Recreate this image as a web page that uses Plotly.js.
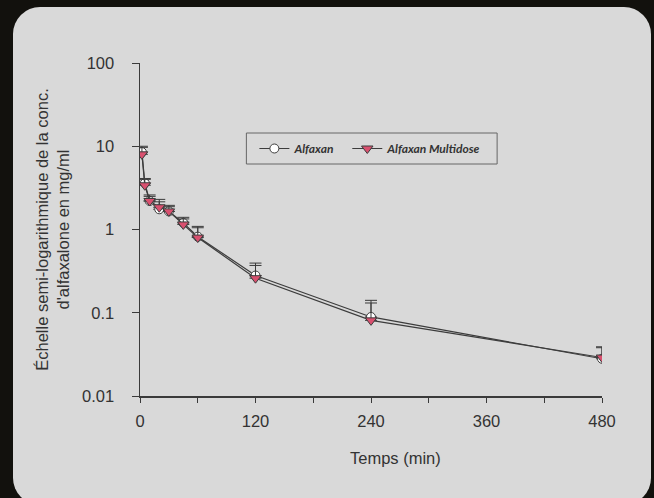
<!DOCTYPE html>
<html>
<head>
<meta charset="utf-8">
<script src="https://cdn.plot.ly/plotly-3.0.1.min.js"></script>
<style>
  html, body { margin: 0; padding: 0; background: #12110d; width: 654px; height: 498px; overflow: hidden; }
  #panel { position: absolute; left: 13px; top: 7px; width: 638px; height: 498px; background: #d9d9d9; border-radius: 27px; }
  #chart { position: absolute; left: 0; top: 0; width: 654px; height: 498px; }
</style>
</head>
<body>
<div id="panel"></div>
<div id="chart"></div>
<script>
const timeMin = [2, 5, 10, 20, 30, 45, 60, 120, 240, 480];
const alfaxan = [8.5, 3.6, 2.2, 1.75, 1.65, 1.2, 0.82, 0.28, 0.089, 0.028];
const alfaxanErr = [1.5, 0.5, 0.4, 0.55, 0.3, 0.2, 0.27, 0.115, 0.052, 0.011];
const multidose = [8.0, 3.4, 2.2, 1.85, 1.65, 1.15, 0.8, 0.26, 0.081, 0.029];
const multidoseErr = [1.7, 0.6, 0.3, 0.3, 0.23, 0.19, 0.25, 0.11, 0.05, 0.009];
const seriesNames = ['Alfaxan', 'Alfaxan Multidose'];
const xTickVals = [0, 60, 120, 180, 240, 300, 360, 420, 480];
const xTickText = ['0', '', '120', '', '240', '', '360', '', '480'];
const yTickVals = [0.01, 0.1, 1, 10, 100];
const yTickText = ['0.01', '0.1', '1', '10', '100'];
const xTitle = 'Temps (min)';
const yTitle = "Échelle semi-logarithmique de la conc.<br>d'alfaxalone en mg/ml";

const zeros = timeMin.map(() => 0);
const errStyle = (arr) => ({type: 'data', symmetric: false, array: arr, arrayminus: zeros,
  color: '#3a3a3a', thickness: 1, width: 6});

const traces = [
  {x: timeMin, y: alfaxan, name: seriesNames[0], type: 'scatter', mode: 'lines+markers',
   legend: 'legend',
   line: {color: '#3c3c3c', width: 1.2},
   marker: {symbol: 'circle', size: 9, color: '#ffffff', line: {color: '#3c3c3c', width: 1}},
   error_y: errStyle(alfaxanErr)},
  {x: timeMin, y: multidose, name: seriesNames[1], type: 'scatter', mode: 'lines+markers',
   legend: 'legend2',
   line: {color: '#3c3c3c', width: 1.2},
   marker: {symbol: 'triangle-down', size: 10, color: '#d9506f', line: {color: '#3c3c3c', width: 1}},
   error_y: errStyle(multidoseErr)}
];

// plot area in pixels: x 139.5..602, y 63..396
const px = (p) => (p - 139.5) / 462.5;
const py = (p) => (396 - p) / 333;
const legendFont = {family: 'Lato, Open Sans, sans-serif', size: 12, color: '#333333', weight: 'bold', style: 'italic'};
const legendBase = (xp) => ({orientation: 'h', x: px(xp), y: py(148.5), xanchor: 'left', yanchor: 'middle',
  borderwidth: 0, bgcolor: 'rgba(0,0,0,0)', font: legendFont});

const layout = {
  width: 654, height: 498,
  paper_bgcolor: 'rgba(0,0,0,0)', plot_bgcolor: 'rgba(0,0,0,0)',
  margin: {l: 139.5, r: 52, t: 63, b: 102},
  font: {family: 'Liberation Sans, Arial, sans-serif', size: 16.5, color: '#333333'},
  showlegend: true,
  legend: legendBase(254),
  legend2: legendBase(347),
  shapes: [{type: 'rect', xref: 'paper', yref: 'paper', x0: px(246), x1: px(497), y0: py(164), y1: py(133),
    line: {color: '#666666', width: 1}, fillcolor: 'rgba(0,0,0,0)'}],
  annotations: [{text: xTitle, xref: 'paper', yref: 'paper', x: px(395), y: py(458),
    xanchor: 'center', yanchor: 'middle', showarrow: false, font: {size: 16.5, color: '#333333'}}],
  xaxis: {range: [0, 480], tickvals: xTickVals, ticktext: xTickText, ticks: 'outside', ticklen: 5,
    tickcolor: '#3a3a3a', showline: true, linecolor: '#3a3a3a', linewidth: 1.5, showgrid: false, zeroline: false,
    ticklabelstandoff: 5},
  yaxis: {type: 'log', range: [-2, 2], tickvals: yTickVals, ticktext: yTickText, ticks: 'outside', ticklen: 7,
    tickcolor: '#3a3a3a', showline: true, linecolor: '#3a3a3a', linewidth: 1.5, showgrid: false, zeroline: false,
    ticklabelstandoff: 14,
    title: {text: yTitle, font: {size: 16.5, color: '#333333'}, standoff: 8}}
};

Plotly.newPlot('chart', traces, layout, {displayModeBar: false, staticPlot: true});
</script>
</body>
</html>
